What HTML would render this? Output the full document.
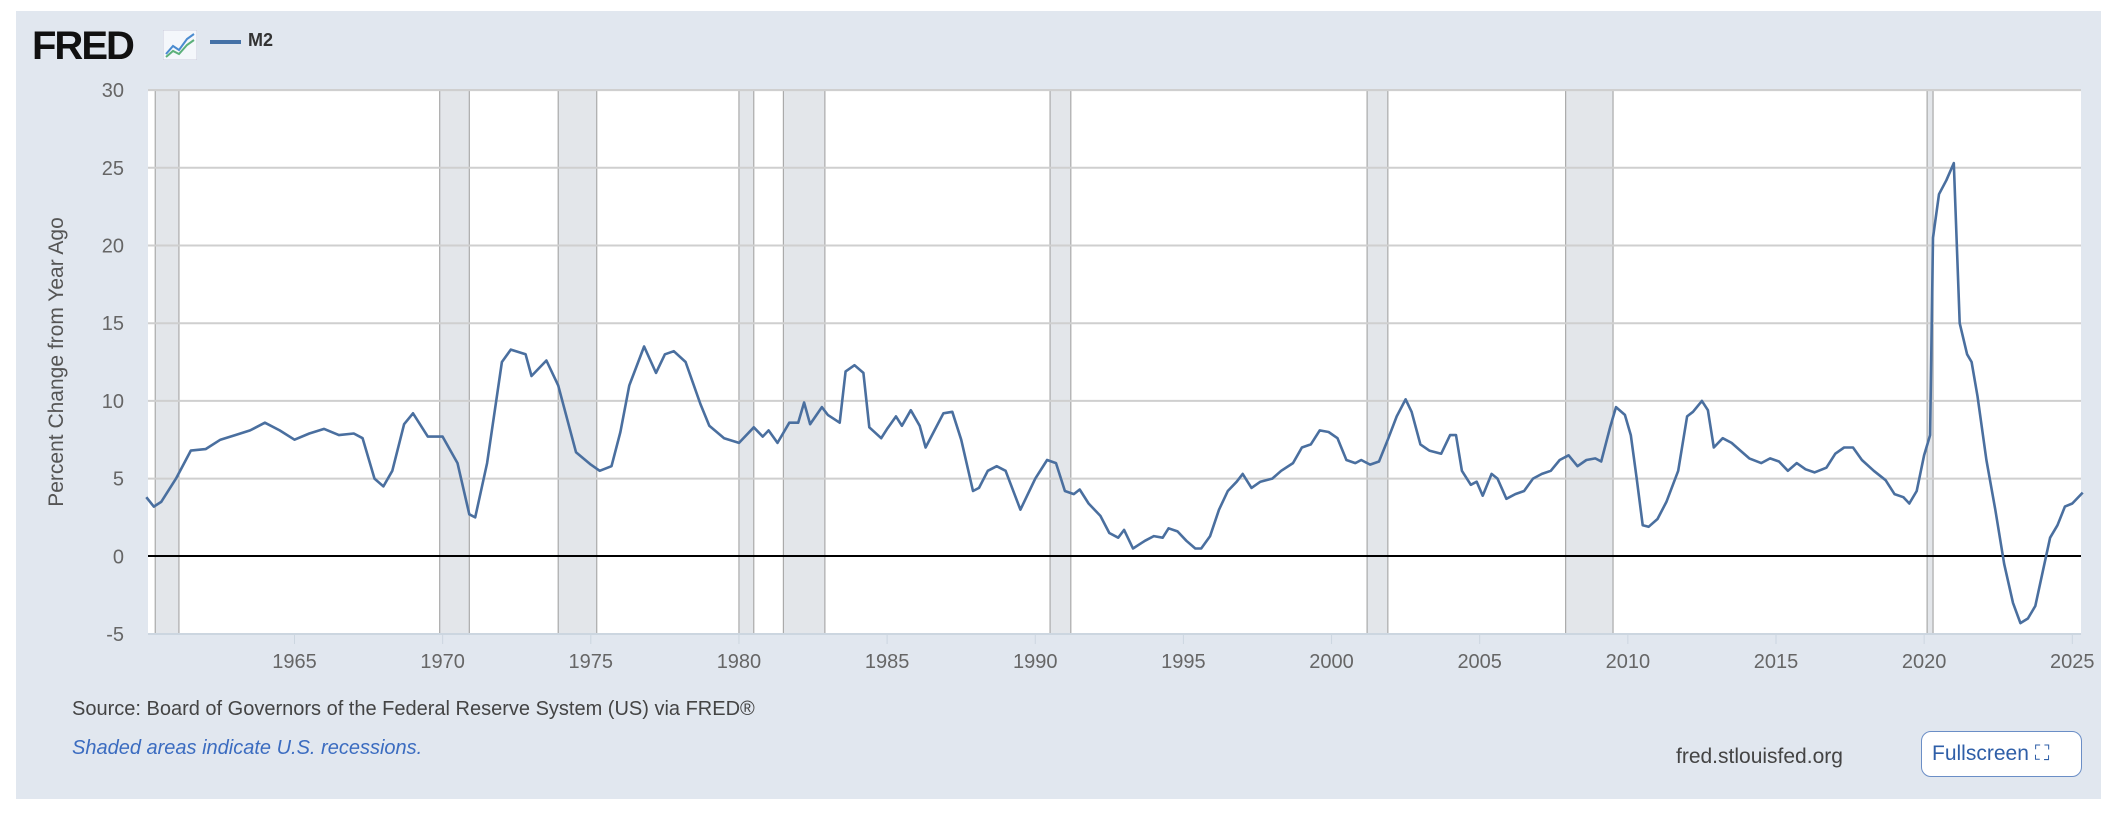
<!DOCTYPE html>
<html><head><meta charset="utf-8"><style>
html,body{margin:0;padding:0;background:#fff;width:2122px;height:814px;overflow:hidden;font-family:"Liberation Sans",sans-serif}
.panel{position:absolute;left:16px;top:11px;width:2085px;height:788px;background:#e1e7ef}
.t{position:absolute;white-space:nowrap}
</style></head><body>
<div class="panel"></div>
<div class="t" style="left:32px;top:24px;font-size:40px;font-weight:bold;color:#111;letter-spacing:-2px">FRED</div>
<svg style="position:absolute;left:163px;top:30px" width="34" height="30"><rect x="0" y="0" width="34" height="30" fill="#f4f7fb" stroke="#ccd" /><polyline points="3,24 10,16 16,20 24,9 31,4" fill="none" stroke="#4a8bd0" stroke-width="2"/><polyline points="3,27 10,21 16,24 24,15 31,10" fill="none" stroke="#5bb07a" stroke-width="2"/></svg>
<div class="t" style="left:210px;top:40px;width:31px;height:4px;background:#4572a7"></div>
<div class="t" style="left:248px;top:30px;font-size:18px;font-weight:bold;color:#333">M2</div>
<svg id="c" style="position:absolute;left:0;top:0" width="2122" height="814">
<rect x="148" y="90" width="1933" height="544" fill="#fff"/>
<g id="rec"></g><g id="grid"></g>
<line x1="148" y1="556" x2="2081" y2="556" stroke="#000" stroke-width="2"/>
<path id="line" fill="none" stroke="#4a6f9f" stroke-width="2.6" stroke-linejoin="round"/>
<g font-family="Liberation Sans, sans-serif" font-size="20" fill="#666" id="lab"></g>
<text transform="translate(63,362) rotate(-90)" text-anchor="middle" font-family="Liberation Sans, sans-serif" font-size="21" fill="#555">Percent Change from Year Ago</text>
</svg>
<div class="t" style="left:72px;top:698px;font-size:20px;color:#444">Source: Board of Governors of the Federal Reserve System (US) via FRED®</div>
<div class="t" style="left:72px;top:737px;font-size:20px;color:#3b6cc0;font-style:italic">Shaded areas indicate U.S. recessions.</div>
<div class="t" style="left:1676px;top:745px;font-size:21px;color:#444">fred.stlouisfed.org</div>
<div class="t" style="left:1921px;top:731px;width:161px;height:46px;border:1.5px solid #6b8ec6;border-radius:10px;background:#fff;box-sizing:border-box;font-size:21px;color:#2f5fa8;line-height:43px;padding-left:10px">Fullscreen ⛶</div>
<script>
const X=y=>294.5+(y-1965)*29.63, Y=v=>556.3-v*15.54;
const ns="http://www.w3.org/2000/svg";
function el(p,t,a,txt){const e=document.createElementNS(ns,t);for(const k in a)e.setAttribute(k,a[k]);if(txt!=null)e.textContent=txt;document.getElementById(p).appendChild(e);}
[[1960.3,1961.1],[1969.9,1970.9],[1973.9,1975.2],[1980.0,1980.5],[1981.5,1982.9],[1990.5,1991.2],[2001.2,2001.9],[2007.9,2009.5],[2020.1,2020.3]].forEach(r=>{
 el("rec","rect",{x:X(r[0]),y:90,width:X(r[1])-X(r[0]),height:544,fill:"#e3e6ea",stroke:"#aaa","stroke-width":1.2});});
for(let v=-5;v<=30;v+=5){ if(v!==0&&v!==-5) el("grid","line",{x1:148,x2:2081,y1:Y(v),y2:Y(v),stroke:"#cfcfcf","stroke-width":2});
 el("lab","text",{x:124,y:Y(v)+7,"text-anchor":"end"},v);}
el("grid","line",{x1:148,x2:2081,y1:90,y2:90,stroke:"#cfcfcf","stroke-width":2});
el("grid","line",{x1:148,x2:2081,y1:634,y2:634,stroke:"#ccd6e0","stroke-width":2});
for(let y=1965;y<=2025;y+=5){el("grid","line",{x1:X(y),x2:X(y),y1:634,y2:644,stroke:"#ccd6e0","stroke-width":1});
 el("lab","text",{x:X(y),y:668,"text-anchor":"middle"},y);}
const d=[1960.0,3.8,1960.25,3.2,1960.5,3.5,1961,5,1961.5,6.8,1962,6.9,1962.5,7.5,1963,7.8,1963.5,8.1,1964,8.6,1964.5,8.1,1965,7.5,1965.5,7.9,1966,8.2,1966.5,7.8,1967,7.9,1967.3,7.6,1967.7,5,1968,4.5,1968.3,5.5,1968.7,8.5,1969,9.2,1969.5,7.7,1970,7.7,1970.5,6,1970.9,2.7,1971.1,2.5,1971.5,6,1972,12.5,1972.3,13.3,1972.8,13,1973,11.6,1973.5,12.6,1973.9,11,1974.5,6.7,1975,5.9,1975.3,5.5,1975.7,5.8,1976,8,1976.3,11,1976.8,13.5,1977.2,11.8,1977.5,13,1977.8,13.2,1978.2,12.5,1978.7,9.8,1979,8.4,1979.5,7.6,1980,7.3,1980.5,8.3,1980.8,7.7,1981,8.1,1981.3,7.3,1981.7,8.6,1982,8.6,1982.2,9.9,1982.4,8.5,1982.8,9.6,1983,9.1,1983.4,8.6,1983.6,11.9,1983.9,12.3,1984.2,11.8,1984.4,8.3,1984.8,7.6,1985,8.2,1985.3,9,1985.5,8.4,1985.8,9.4,1986.1,8.4,1986.3,7,1986.6,8.1,1986.9,9.2,1987.2,9.3,1987.5,7.5,1987.9,4.2,1988.1,4.4,1988.4,5.5,1988.7,5.8,1989,5.5,1989.5,3,1990,5,1990.4,6.2,1990.7,6,1991,4.2,1991.3,4,1991.5,4.3,1991.8,3.4,1992.2,2.6,1992.5,1.5,1992.8,1.2,1993,1.7,1993.3,0.5,1993.7,1,1994,1.3,1994.3,1.2,1994.5,1.8,1994.8,1.6,1995.1,1,1995.4,0.5,1995.6,0.5,1995.9,1.3,1996.2,3,1996.5,4.2,1996.8,4.8,1997,5.3,1997.3,4.4,1997.6,4.8,1998,5,1998.3,5.5,1998.7,6,1999,7,1999.3,7.2,1999.6,8.1,1999.9,8,2000.2,7.6,2000.5,6.2,2000.8,6,2001,6.2,2001.3,5.9,2001.6,6.1,2001.9,7.5,2002.2,9,2002.5,10.1,2002.7,9.3,2003,7.2,2003.3,6.8,2003.7,6.6,2004,7.8,2004.2,7.8,2004.4,5.5,2004.7,4.6,2004.9,4.8,2005.1,3.9,2005.4,5.3,2005.6,5,2005.9,3.7,2006.2,4,2006.5,4.2,2006.8,5,2007.1,5.3,2007.4,5.5,2007.7,6.2,2008,6.5,2008.3,5.8,2008.6,6.2,2008.9,6.3,2009.1,6.1,2009.4,8.3,2009.6,9.6,2009.9,9.1,2010.1,7.8,2010.3,5,2010.5,2,2010.7,1.9,2011,2.4,2011.3,3.5,2011.7,5.5,2012,9,2012.2,9.3,2012.5,10,2012.7,9.4,2012.9,7,2013.2,7.6,2013.5,7.3,2013.8,6.8,2014.1,6.3,2014.5,6,2014.8,6.3,2015.1,6.1,2015.4,5.5,2015.7,6,2016,5.6,2016.3,5.4,2016.7,5.7,2017,6.6,2017.3,7,2017.6,7,2017.9,6.2,2018.3,5.5,2018.7,4.9,2019,4,2019.3,3.8,2019.5,3.4,2019.75,4.2,2020.0,6.5,2020.2,7.8,2020.3,20.5,2020.5,23.3,2020.75,24.2,2021.0,25.3,2021.2,15,2021.45,13,2021.6,12.5,2021.8,10.3,2022.1,6.2,2022.4,3,2022.7,-0.5,2023.0,-3,2023.25,-4.3,2023.5,-4,2023.75,-3.2,2024.0,-1,2024.25,1.2,2024.5,2,2024.75,3.2,2025.0,3.4,2025.35,4.1];
let p="";for(let i=0;i<d.length;i+=2)p+=(i?"L":"M")+X(d[i]).toFixed(1)+","+Y(d[i+1]).toFixed(1);
document.getElementById("line").setAttribute("d",p);
</script>
</body></html>
